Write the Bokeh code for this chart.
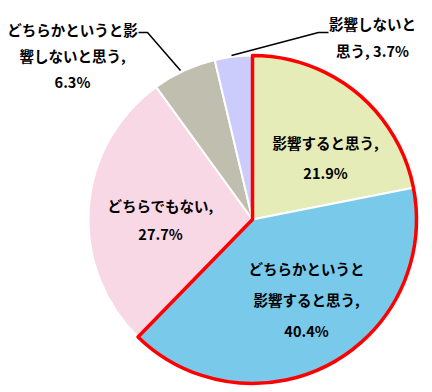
import numpy as np
from bokeh.plotting import figure
from bokeh.models import Range1d
from bokeh.core.properties import value
from bokeh.embed import file_html
from bokeh.resources import INLINE

# ---- data ----
categories = ["影響すると思う", "どちらかというと影響すると思う", "どちらでもない",
              "どちらかというと影響しないと思う", "影響しないと思う"]
values = [21.9, 40.4, 27.7, 6.3, 3.7]
colors = ["#E5ECB8", "#79C9EA", "#F9D8E6", "#C0BEAE", "#CCCCFC"]
label_lines = [
    ["影響すると思う,", "21.9%"],
    ["どちらかというと", "影響すると思う,", "40.4%"],
    ["どちらでもない,", "27.7%"],
    ["どちらかというと影", "響しないと思う,", "6.3%"],
    ["影響しないと", "思う, 3.7%"],
]

# ---- layout (screen px, y measured from top) ----
W, H = 432, 392
CX, CY, R = 252, 219, 164
label_pos = [(325, 142), (306, 268), (160, 205), (72, 29), (372, 23)]
line_gaps = [30, 31, 28, 26, 27]

def Y(sy):
    return H - sy

p = figure(width=W, height=H, output_backend="svg", toolbar_location=None,
           x_range=Range1d(0, W), y_range=Range1d(0, H),
           min_border=0)
p.axis.visible = False
p.grid.visible = False
p.outline_line_color = None
p.background_fill_color = "white"

vals = np.array(values)
fr = vals / vals.sum()
cum = np.concatenate([[0], np.cumsum(fr)])
start = np.pi / 2 - 2 * np.pi * cum[:-1]
end = np.pi / 2 - 2 * np.pi * cum[1:]

p.wedge(x=[CX] * len(vals), y=[Y(CY)] * len(vals), radius=R,
        start_angle=list(start), end_angle=list(end), direction="clock",
        fill_color=colors, line_color="white", line_width=2)

# red outline around the two "影響する" slices
p.wedge(x=[CX], y=[Y(CY)], radius=R, start_angle=[start[0]], end_angle=[end[1]],
        direction="clock", fill_color=None, line_color="#FF0000", line_width=3.5,
        line_join="round")

# leader lines
p.line(x=[138, 147, 180], y=[Y(32), Y(32), Y(70)], line_color="black", line_width=1.5)
p.line(x=[231, 318, 328], y=[Y(55), Y(32), Y(32)], line_color="black", line_width=1.5)

# labels
xs, ys, ts = [], [], []
for (lx, ly), lines, g in zip(label_pos, label_lines, line_gaps):
    for i, t in enumerate(lines):
        xs.append(lx)
        ys.append(Y(ly + i * g))
        ts.append(t)
p.text(x=xs, y=ys, text=ts, text_font=value("Noto Sans CJK JP"),
       text_font_style="bold", text_font_size="14.5px", text_color="black",
       text_align="center", text_baseline="middle")

open("out.html", "w").write(file_html(p, INLINE))
